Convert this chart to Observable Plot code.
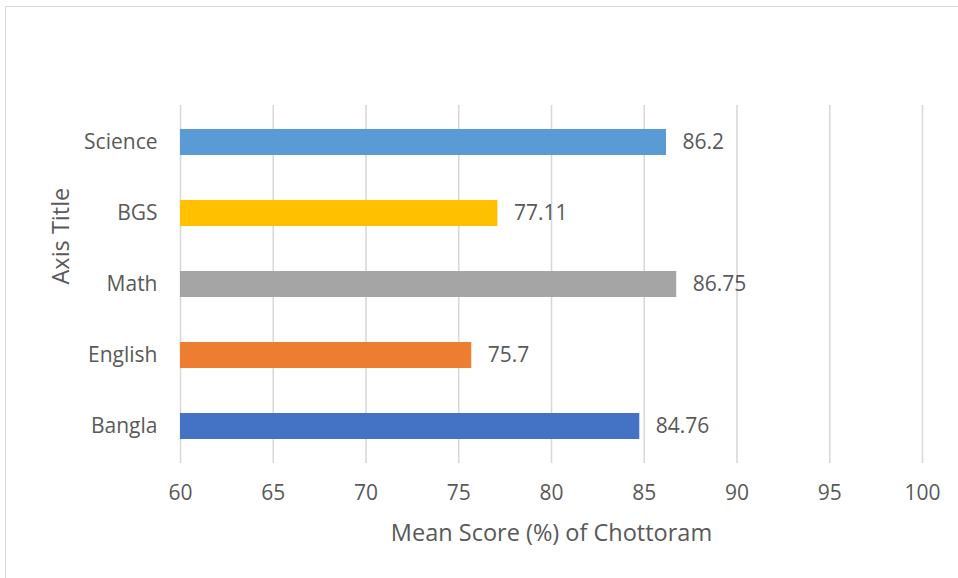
<!DOCTYPE html>
<html>
<head>
<meta charset="utf-8">
<script src="https://cdn.jsdelivr.net/npm/d3@7"></script>
<script src="https://cdn.jsdelivr.net/npm/@observablehq/plot@0.6"></script>
<style>
  html, body { margin: 0; padding: 0; background: #fff; }
  #wrap { position: relative; width: 958px; height: 578px; overflow: hidden; }
  #frame { position: absolute; left: 5px; top: 6px; width: 1000px; height: 1000px; border: 1.5px solid #d9d9d9; box-sizing: border-box; }
  #chart { position: absolute; left: 0; top: 0; }
</style>
</head>
<body>
<div id="wrap"><div id="frame"></div><div id="chart"></div></div>
<script>
const subjects = ["Bangla", "English", "Math", "BGS", "Science"];
const scores = [84.76, 75.7, 86.75, 77.11, 86.2];
const colors = ["#4472C4", "#ED7D31", "#A5A5A5", "#FFC000", "#5B9BD5"];
const xTicks = [60, 65, 70, 75, 80, 85, 90, 95, 100];
const xTitle = "Mean Score (%) of Chottoram";
const yTitle = "Axis Title";

const data = subjects.map((s, i) => ({subject: s, score: scores[i]}));
const textColor = "#595959";

const chart = Plot.plot({
  width: 958,
  height: 578,
  marginLeft: 180,
  marginRight: 36,
  marginTop: 105,
  marginBottom: 115,
  style: {fontFamily: "'Open Sans', sans-serif", fontSize: "21px", color: textColor, background: "transparent"},
  x: {domain: [60, 100], ticks: xTicks, label: null},
  y: {domain: subjects.slice().reverse(), paddingInner: 0.64, paddingOuter: 0.32, label: null},
  color: {domain: subjects, range: colors},
  marks: [
    Plot.gridX(xTicks, {stroke: "#d9d9d9", strokeOpacity: 1, strokeWidth: 1.6}),
    Plot.barX(data, {x1: 60, x2: "score", y: "subject", fill: "subject"}),
    Plot.text(data, {x: "score", y: "subject", text: d => String(d.score), textAnchor: "start", dx: 16, fill: textColor, fontSize: 21}),
    Plot.axisX(xTicks, {tickSize: 0, tickPadding: 22, fill: textColor, fontSize: 21, label: null}),
    Plot.axisY({tickSize: 0, tickPadding: 23, fill: textColor, fontSize: 21, label: null}),
    Plot.text([xTitle], {frameAnchor: "bottom", dy: 70, text: d => d, fill: textColor, fontSize: 23.5, lineAnchor: "middle"}),
    Plot.text([yTitle], {frameAnchor: "left", dx: -119, rotate: -90, text: d => d, fill: textColor, fontSize: 23.5, lineAnchor: "middle"})
  ]
});
document.getElementById("chart").appendChild(chart);
</script>
</body>
</html>
